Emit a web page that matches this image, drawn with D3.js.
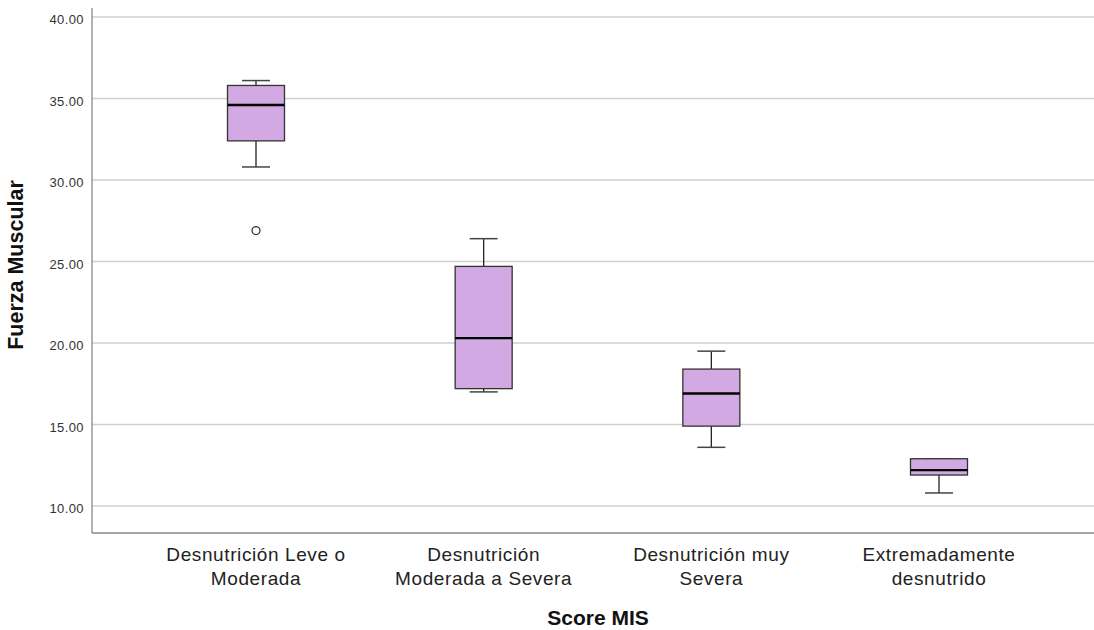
<!DOCTYPE html>
<html><head><meta charset="utf-8">
<script src="https://cdn.jsdelivr.net/npm/d3@7"></script>
<style>body{margin:0;background:#fff}</style>
</head><body>
<svg id="c" width="1094" height="630"></svg>
<script>
const categories = [["Desnutrición Leve o","Moderada"],["Desnutrición","Moderada a Severa"],["Desnutrición muy","Severa"],["Extremadamente","desnutrido"]];
const whiskerLow = [30.8, 17.0, 13.6, 10.8];
const q1 = [32.4, 17.2, 14.9, 11.9];
const median = [34.6, 20.3, 16.9, 12.2];
const q3 = [35.8, 24.7, 18.4, 12.9];
const whiskerHigh = [36.1, 26.4, 19.5, 12.9];
const outliers = [[0, 26.9]];
const yTicks = [10, 15, 20, 25, 30, 35, 40];

(function(){
const svg = d3.select("#c");
const FONT = "Liberation Sans, Arial, sans-serif";
const mLeft = 92, mRight = 1094, mTop = 8, mBottom = 533;
const y = d3.scaleLinear().domain([10, 40]).range([506, 17]);
const x = d3.scalePoint().domain(d3.range(categories.length)).range([256, 939]);
const boxW = 57, capW = 28;

// gridlines
svg.append("g").selectAll("line").data(yTicks).join("line")
  .attr("x1", mLeft).attr("x2", mRight).attr("y1", d => y(d)).attr("y2", d => y(d))
  .attr("stroke", "#cfcfcf").attr("stroke-width", 1.5);

// y axis
const ya = svg.append("g").attr("transform", `translate(${mLeft},0)`)
  .call(d3.axisLeft(y).tickValues(yTicks).tickFormat(d3.format(".2f")).tickSize(0));
ya.select(".domain").remove();
ya.selectAll("text").attr("font-family", FONT).attr("font-size", 13).attr("letter-spacing", 0.4)
  .attr("fill", "#333").attr("x", -8).attr("dy", "0.5em");

// axis lines
svg.append("line").attr("x1", mLeft).attr("x2", mLeft).attr("y1", mTop).attr("y2", mBottom).attr("stroke", "#888").attr("stroke-width", 1.3);
svg.append("line").attr("x1", mLeft).attr("x2", mRight).attr("y1", mBottom).attr("y2", mBottom).attr("stroke", "#888").attr("stroke-width", 1.3);

// boxes
const g = svg.append("g");
categories.forEach((c, i) => {
  const cx = x(i);
  g.append("line").attr("x1", cx).attr("x2", cx).attr("y1", y(q3[i])).attr("y2", y(whiskerHigh[i])).attr("stroke", "#222").attr("stroke-width", 1.3);
  g.append("line").attr("x1", cx).attr("x2", cx).attr("y1", y(q1[i])).attr("y2", y(whiskerLow[i])).attr("stroke", "#222").attr("stroke-width", 1.3);
  g.append("line").attr("x1", cx - capW/2).attr("x2", cx + capW/2).attr("y1", y(whiskerHigh[i])).attr("y2", y(whiskerHigh[i])).attr("stroke", "#444").attr("stroke-width", 1.5);
  g.append("line").attr("x1", cx - capW/2).attr("x2", cx + capW/2).attr("y1", y(whiskerLow[i])).attr("y2", y(whiskerLow[i])).attr("stroke", "#444").attr("stroke-width", 1.5);
  g.append("rect").attr("x", cx - boxW/2).attr("y", y(q3[i])).attr("width", boxW).attr("height", y(q1[i]) - y(q3[i]))
    .attr("fill", "#d2a9e3").attr("stroke", "#333").attr("stroke-width", 1.3);
  g.append("line").attr("x1", cx - boxW/2).attr("x2", cx + boxW/2).attr("y1", y(median[i])).attr("y2", y(median[i])).attr("stroke", "#000").attr("stroke-width", 2.4);
});
g.selectAll("circle").data(outliers).join("circle")
  .attr("cx", d => x(d[0])).attr("cy", d => y(d[1])).attr("r", 4)
  .attr("fill", "#fff").attr("stroke", "#333").attr("stroke-width", 1.3);

// x labels
const xl = svg.append("g").attr("font-family", FONT).attr("font-size", 19).attr("letter-spacing", 0.6)
  .attr("fill", "#222").attr("text-anchor", "middle");
categories.forEach((c, i) => {
  const t = xl.append("text").attr("x", x(i)).attr("y", 561);
  c.forEach((line, j) => t.append("tspan").attr("x", x(i)).attr("dy", j === 0 ? 0 : 24).text(line));
});

// titles
svg.append("text").attr("x", 598).attr("y", 625).attr("text-anchor", "middle")
  .attr("font-family", FONT).attr("font-size", 21).attr("font-weight", "bold").attr("fill", "#111").text("Score MIS");
svg.append("text").attr("transform", "translate(23,265) rotate(-90)").attr("text-anchor", "middle")
  .attr("font-family", FONT).attr("font-size", 21.5).attr("font-weight", "bold").attr("fill", "#111").text("Fuerza Muscular");
})();
</script>
</body></html>
